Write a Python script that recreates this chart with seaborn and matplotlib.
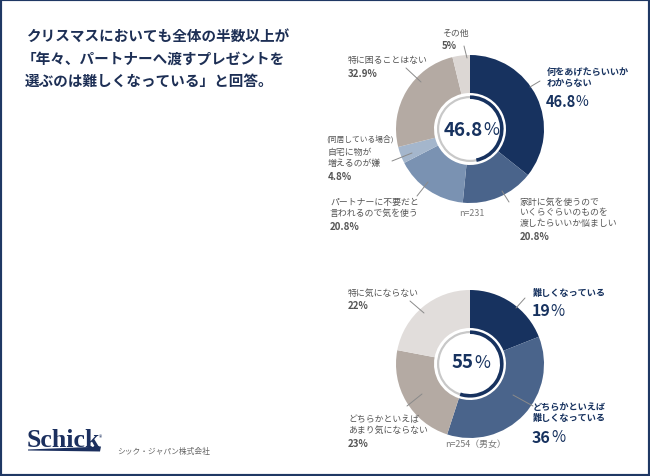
import numpy as np
import seaborn as sns
import matplotlib.pyplot as plt
from matplotlib.patches import Wedge, Rectangle, Polygon

sns.set_theme(style='white')
plt.rcParams['font.family'] = ['Noto Sans CJK JP', 'DejaVu Sans']

# data
top_labels = ['何をあげたらいいか\nわからない', '家計に気を使うので\nいくらぐらいのものを\n渡したらいいか悩ましい',
              'パートナーに不要だと\n言われるので気を使う', '(同居している場合)', '自宅に物が\n増えるのが嫌',
              '特に困ることはない', 'その他']
top_values = [46.8, 20.8, 20.8, 4.8, 32.9, 5]
top_n = 'n=231'

bottom_labels = ['難しくなっている', 'どちらかといえば\n難しくなっている',
                 'どちらかといえば\nあまり気にならない', '特に気にならない']
bottom_values = [19, 36, 23, 22]
bottom_n = 'n=254（男女）'
bottom_total = bottom_values[0] + bottom_values[1]

navy = '#17325f'
top_colors = [navy, '#4a648b', '#7a92b2', '#a4b6cc', '#b4aaa3', '#dcd7d4']
bottom_colors = [navy, '#4a648b', '#b4aaa3', '#e1dddb']
grey_txt = '#555555'
line_c = '#8a8a8a'

H = 477
fig = plt.figure(figsize=(6.5, 4.77), dpi=100)
ax = fig.add_axes([0, 0, 1, 1])


def donut(values, colors, cx, cy, share):
    ax.pie(values, colors=colors, startangle=90, counterclock=False, radius=74,
           center=(cx, H - cy), wedgeprops=dict(width=38, linewidth=0))
    # inner ring with the highlighted share
    ax.add_patch(Wedge((cx, H - cy), 33, 0, 360, width=2.2, color='#c8c8c8', lw=0))
    ax.add_patch(Wedge((cx, H - cy), 33.6, 90 - share * 3.6, 90, width=3.6, color=navy, lw=0))


def t(x, y, s, size=6.4, color=grey_txt, weight='normal', ha='left'):
    ax.text(x, H - y, s, fontsize=size, color=color, fontweight=weight, ha=ha, va='center',
            linespacing=1.25)


def lead(x1, y1, x2, y2):
    ax.plot([x1, x2], [H - y1, H - y2], color=line_c, lw=0.7)


donut(top_values, top_colors, 470, 130, top_values[0])
donut(bottom_values, bottom_colors, 470, 365, bottom_total)

# center figures
t(483, 130, f'{top_values[0]}', size=13.5, color=navy, weight='bold', ha='right')
t(483, 130, '%', size=12.5, color=navy)
t(474, 363, f'{bottom_total}', size=13.5, color=navy, weight='bold', ha='right')
t(474, 363, '%', size=12.5, color=navy)

# top donut labels
t(547, 78, top_labels[0], color=navy, weight='bold', size=6.6)
t(546, 102, f'{top_values[0]}', size=10.5, color=navy, weight='bold')
t(575, 102, '%', size=10, color=navy, ha='left')
t(520, 213, top_labels[1])
t(520, 237, f'{top_values[1]}%', size=7, weight='bold')
t(330, 208, top_labels[2])
t(330, 227, f'{top_values[2]}%', size=7, weight='bold')
t(326, 139, top_labels[3], size=5.6)
t(328, 158, top_labels[4])
t(328, 177, f'{top_values[3]}%', size=7, weight='bold')
t(348, 61, top_labels[5])
t(348, 74, f'{top_values[4]}%', size=7, weight='bold')
t(442, 33, top_labels[6])
t(442, 46, f'{top_values[5]}%', size=7, weight='bold')
t(472, 213, top_n, ha='center', color='#777777')

lead(540, 82, 530, 88)
lead(509, 203, 502, 192)
lead(417, 197, 428, 183)
lead(392, 162, 412, 154)
lead(406, 69, 421, 83)
lead(464, 47, 467, 59)

# bottom donut labels
t(533, 293, bottom_labels[0], color=navy, weight='bold', size=6.6)
t(532, 311, f'{bottom_values[0]}', size=11.5, color=navy, weight='bold')
t(550, 311, '%', size=11, color=navy)
t(533, 413, bottom_labels[1], color=navy, weight='bold', size=6.6)
t(532, 438, f'{bottom_values[1]}', size=11.5, color=navy, weight='bold')
t(551, 438, '%', size=11, color=navy)
t(348, 425, bottom_labels[2])
t(348, 444, f'{bottom_values[2]}%', size=7, weight='bold')
t(348, 293, bottom_labels[3])
t(348, 306, f'{bottom_values[3]}%', size=7, weight='bold')
t(475, 444, bottom_n, ha='center', color='#777777')

lead(525, 299, 516, 309)
lead(513, 396, 533, 407)
lead(407, 407, 422, 395)
lead(410, 302, 424, 314)

# title
title = ['クリスマスにおいても全体の半数以上が',
         '「年々、パートナーへ渡すプレゼントを',
         '選ぶのは難しくなっている」と回答。']
for i, line in enumerate(title):
    t(22 + (5 if i == 0 else 0) + (3 if i == 2 else 0), 36 + i * 22.5, line,
      size=10.5, color='#1d2f55', weight='bold')

# logo
ax.text(27, H - 447, 'Schick', fontsize=18.5, fontfamily='Liberation Serif', fontweight='bold',
        color='#1b2f5e', ha='left', va='baseline')
ax.text(99, H - 438, '®', fontsize=5, color='#1b2f5e', ha='left', va='center')
ax.add_patch(Polygon([(28, H - 450.5), (101, H - 447.5), (100, H - 452.5), (28, H - 451.5)],
                     closed=True, color='#1b2f5e', lw=0))
t(117, 452, 'シック・ジャパン株式会社', size=5.6, color='#666666')

ax.set_xlim(0, 650)
ax.set_ylim(0, H)
ax.set_aspect('auto')
ax.axis('off')

fig.patches.append(Rectangle((0, 0), 1, 1, transform=fig.transFigure, fill=False,
                             edgecolor='#1f3864', lw=3))

fig.savefig('out.png', dpi=100)
